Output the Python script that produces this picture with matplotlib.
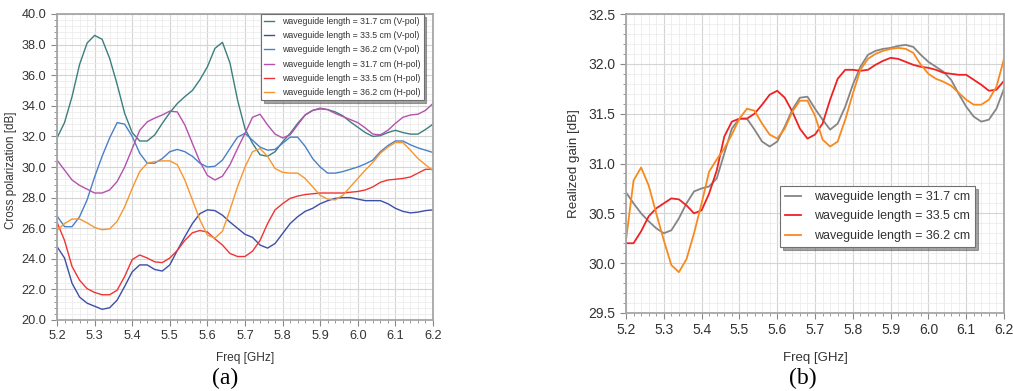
import matplotlib; matplotlib.use("Agg")
import matplotlib.pyplot as plt
from matplotlib.ticker import MultipleLocator, FormatStrFormatter

plt.rcParams["font.family"] = ["Liberation Sans", "DejaVu Sans"]

# ---- data ----
freq = [5.20, 5.22, 5.24, 5.26, 5.28, 5.30, 5.32, 5.34, 5.36, 5.38, 5.40, 5.42, 5.44,
        5.46, 5.48, 5.50, 5.52, 5.54, 5.56, 5.58, 5.60, 5.62, 5.64, 5.66, 5.68, 5.70,
        5.72, 5.74, 5.76, 5.78, 5.80, 5.82, 5.84, 5.86, 5.88, 5.90, 5.92, 5.94, 5.96,
        5.98, 6.00, 6.02, 6.04, 6.06, 6.08, 6.10, 6.12, 6.14, 6.16, 6.18, 6.20]

# (a) cross polarization [dB]
xp_317_v = [31.9, 32.9, 34.6, 36.7, 38.1, 38.6, 38.35, 37.1, 35.4, 33.5, 32.25, 31.7, 31.7,
            32.1, 32.85, 33.55, 34.15, 34.6, 35.0, 35.7, 36.55, 37.75, 38.15, 36.8, 34.4, 32.5,
            31.55, 30.8, 30.7, 31.0, 31.65, 32.2, 32.85, 33.4, 33.7, 33.8, 33.75, 33.6, 33.35,
            32.95, 32.6, 32.25, 32.0, 32.05, 32.25, 32.4, 32.25, 32.15, 32.15, 32.45, 32.8]
xp_335_v = [24.8, 24.05, 22.4, 21.5, 21.1, 20.9, 20.7, 20.8, 21.3, 22.2, 23.15, 23.6, 23.6,
            23.3, 23.2, 23.6, 24.55, 25.45, 26.3, 26.95, 27.2, 27.15, 26.85, 26.4, 26.0, 25.6,
            25.4, 24.9, 24.7, 25.0, 25.65, 26.3, 26.75, 27.1, 27.3, 27.6, 27.8, 27.95, 28.0,
            28.0, 27.9, 27.8, 27.8, 27.8, 27.6, 27.3, 27.1, 27.0, 27.05, 27.15, 27.2]
xp_362_v = [26.8, 26.1, 26.1, 26.75, 27.85, 29.35, 30.7, 31.9, 32.9, 32.8, 32.0, 30.9, 30.25,
            30.25, 30.55, 31.0, 31.15, 31.0, 30.7, 30.25, 30.0, 30.05, 30.45, 31.2, 31.95, 32.2,
            31.75, 31.3, 31.1, 31.15, 31.55, 31.95, 31.95, 31.35, 30.55, 30.0, 29.6, 29.6, 29.7,
            29.85, 30.0, 30.2, 30.45, 31.0, 31.4, 31.7, 31.7, 31.45, 31.25, 31.1, 30.95]
xp_317_h = [30.45, 29.8, 29.15, 28.8, 28.55, 28.3, 28.3, 28.5, 29.05, 30.0, 31.2, 32.4, 32.95,
            33.2, 33.4, 33.65, 33.6, 32.75, 31.55, 30.35, 29.45, 29.15, 29.4, 30.15, 31.2, 32.2,
            33.25, 33.45, 32.75, 32.15, 31.9, 32.1, 32.75, 33.4, 33.7, 33.85, 33.75, 33.5, 33.3,
            33.1, 32.9, 32.55, 32.15, 32.1, 32.4, 32.85, 33.25, 33.4, 33.45, 33.7, 34.15]
xp_335_h = [26.4, 25.2, 23.5, 22.6, 22.05, 21.8, 21.65, 21.65, 21.95, 22.85, 23.95, 24.25, 24.05,
            23.8, 23.75, 24.05, 24.55, 25.2, 25.7, 25.85, 25.75, 25.3, 24.9, 24.35, 24.15, 24.15,
            24.5, 25.2, 26.3, 27.2, 27.6, 27.95, 28.1, 28.2, 28.25, 28.3, 28.3, 28.3, 28.3,
            28.35, 28.4, 28.5, 28.7, 29.0, 29.15, 29.2, 29.25, 29.35, 29.6, 29.85, 29.85]
xp_362_h = [25.85, 26.3, 26.6, 26.6, 26.35, 26.05, 25.9, 25.95, 26.45, 27.4, 28.6, 29.7, 30.25,
            30.35, 30.4, 30.4, 30.15, 29.15, 27.85, 26.55, 25.55, 25.35, 25.8, 27.2, 28.7, 30.0,
            31.0, 31.2, 30.7, 29.9, 29.65, 29.6, 29.6, 29.25, 28.7, 28.15, 27.9, 27.85, 28.15,
            28.7, 29.25, 29.8, 30.3, 30.9, 31.3, 31.6, 31.6, 31.1, 30.55, 30.15, 29.75]

# (b) realized gain [dB]
g_317 = [30.71, 30.6, 30.5, 30.42, 30.35, 30.3, 30.33, 30.45, 30.6, 30.72, 30.75, 30.77, 30.85,
         31.1, 31.35, 31.45, 31.45, 31.34, 31.22, 31.17, 31.22, 31.37, 31.54, 31.66, 31.67, 31.55,
         31.44, 31.34, 31.4, 31.57, 31.79, 31.97, 32.09, 32.13, 32.15, 32.16, 32.18, 32.19, 32.17,
         32.09, 32.02, 31.97, 31.92, 31.84, 31.7, 31.57, 31.47, 31.42, 31.44, 31.55, 31.75]
g_335 = [30.2, 30.2, 30.32, 30.47, 30.55, 30.6, 30.65, 30.64, 30.58, 30.5, 30.53, 30.7, 30.93,
         31.27, 31.42, 31.45, 31.45, 31.5, 31.59, 31.69, 31.73, 31.66, 31.52, 31.35, 31.25, 31.29,
         31.4, 31.64, 31.85, 31.94, 31.94, 31.93, 31.94, 31.99, 32.03, 32.06, 32.05, 32.02, 31.99,
         31.97, 31.96, 31.94, 31.91, 31.9, 31.89, 31.89, 31.84, 31.79, 31.73, 31.74, 31.83]
g_362 = [30.23, 30.83, 30.96, 30.78, 30.5, 30.23, 29.98, 29.91, 30.04, 30.3, 30.6, 30.92, 31.04,
         31.15, 31.29, 31.45, 31.55, 31.53, 31.4, 31.29, 31.25, 31.35, 31.52, 31.63, 31.63, 31.48,
         31.24, 31.17, 31.22, 31.44, 31.7, 31.94, 32.05, 32.1, 32.13, 32.15, 32.16, 32.15, 32.11,
         31.99, 31.9, 31.85, 31.82, 31.78, 31.71, 31.64, 31.59, 31.59, 31.64, 31.77, 32.05]

labels_a = ["waveguide length = 31.7 cm (V-pol)", "waveguide length = 33.5 cm (V-pol)",
            "waveguide length = 36.2 cm (V-pol)", "waveguide length = 31.7 cm (H-pol)",
            "waveguide length = 33.5 cm (H-pol)", "waveguide length = 36.2 cm (H-pol)"]
labels_b = ["waveguide length = 31.7 cm", "waveguide length = 33.5 cm", "waveguide length = 36.2 cm"]

colors_a = ["#3b7e7e", "#3c4fa6", "#4a80c8", "#b352ae", "#ef3434", "#f7962f"]
colors_b = ["#858585", "#ee2222", "#f8891f"]

SPINE = "#a6a6a6"; TXT = "#333333"

def style(ax, ymaj, ymin, fs):
    ax.set_xlim(5.2, 6.2)
    ax.xaxis.set_major_locator(MultipleLocator(0.1))
    ax.xaxis.set_minor_locator(MultipleLocator(0.02))
    ax.yaxis.set_major_locator(MultipleLocator(ymaj))
    ax.yaxis.set_minor_locator(MultipleLocator(ymin))
    ax.xaxis.set_major_formatter(FormatStrFormatter("%.1f"))
    ax.yaxis.set_major_formatter(FormatStrFormatter("%.1f"))
    ax.grid(which="major", color="#d4d4d4", lw=0.8)
    ax.grid(which="minor", color="#ececec", lw=0.6)
    ax.set_axisbelow(True)
    for s in ax.spines.values():
        s.set_color(SPINE); s.set_linewidth(1.3)
    ax.tick_params(which="both", direction="out", color="#888888", labelcolor=TXT, labelsize=fs)
    ax.tick_params(which="major", length=4)
    ax.tick_params(which="minor", length=2.5)

fig = plt.figure(figsize=(10.13, 3.91), dpi=100)
axa = fig.add_axes([57/1013, 71/391, 376/1013, 306/391])
axb = fig.add_axes([626/1013, 78/391, 378/1013, 299/391])

# (a)
for y, c, lab in zip([xp_317_v, xp_335_v, xp_362_v, xp_317_h, xp_335_h, xp_362_h], colors_a, labels_a):
    axa.plot(freq, y, color=c, lw=1.0, label=lab)
axa.set_ylim(20, 40)
style(axa, 2.0, 0.4, 9.2)
axa.set_xlabel("Freq [GHz]", fontsize=8.6, color=TXT)
axa.set_ylabel("Cross polarization [dB]", fontsize=8.4, color=TXT)
axa.yaxis.set_label_coords(-0.106, 0.49)
axa.xaxis.set_label_coords(0.5, -0.105)
lga = axa.legend(loc="upper right", bbox_to_anchor=(0.975, 0.999), fontsize=6.3, frameon=True,
                 fancybox=False, shadow=True, handlelength=1.1, handletextpad=1.0,
                 borderpad=0.3, labelspacing=0.6, borderaxespad=0)
lga.get_frame().set_edgecolor("#707070"); lga.get_frame().set_linewidth(0.8)
for t in lga.get_texts(): t.set_color(TXT)

# (b)
for y, c, lab in zip([g_317, g_335, g_362], colors_b, labels_b):
    axb.plot(freq, y, color=c, lw=1.3, label=lab)
axb.set_ylim(29.5, 32.5)
style(axb, 0.5, 0.1, 10)
axb.set_xlabel("Freq [GHz]", fontsize=9.5, color=TXT)
axb.set_ylabel("Realized gain [dB]", fontsize=9.6, color=TXT)
axb.yaxis.set_label_coords(-0.122, 0.5)
axb.xaxis.set_label_coords(0.5, -0.13)
lgb = axb.legend(loc="upper right", bbox_to_anchor=(0.923, 0.425), fontsize=9.0, frameon=True,
                 fancybox=False, shadow=True, handlelength=1.3, handletextpad=1.0,
                 borderpad=0.4, labelspacing=0.6, borderaxespad=0)
lgb.get_frame().set_edgecolor("#707070"); lgb.get_frame().set_linewidth(0.8)
for t in lgb.get_texts(): t.set_color(TXT)

fig.text(225/1013, 1-378/391, "(a)", ha="center", va="center", fontsize=17, family="Liberation Serif")
fig.text(803/1013, 1-378/391, "(b)", ha="center", va="center", fontsize=17, family="Liberation Serif")

fig.savefig("out.png", dpi=100)
